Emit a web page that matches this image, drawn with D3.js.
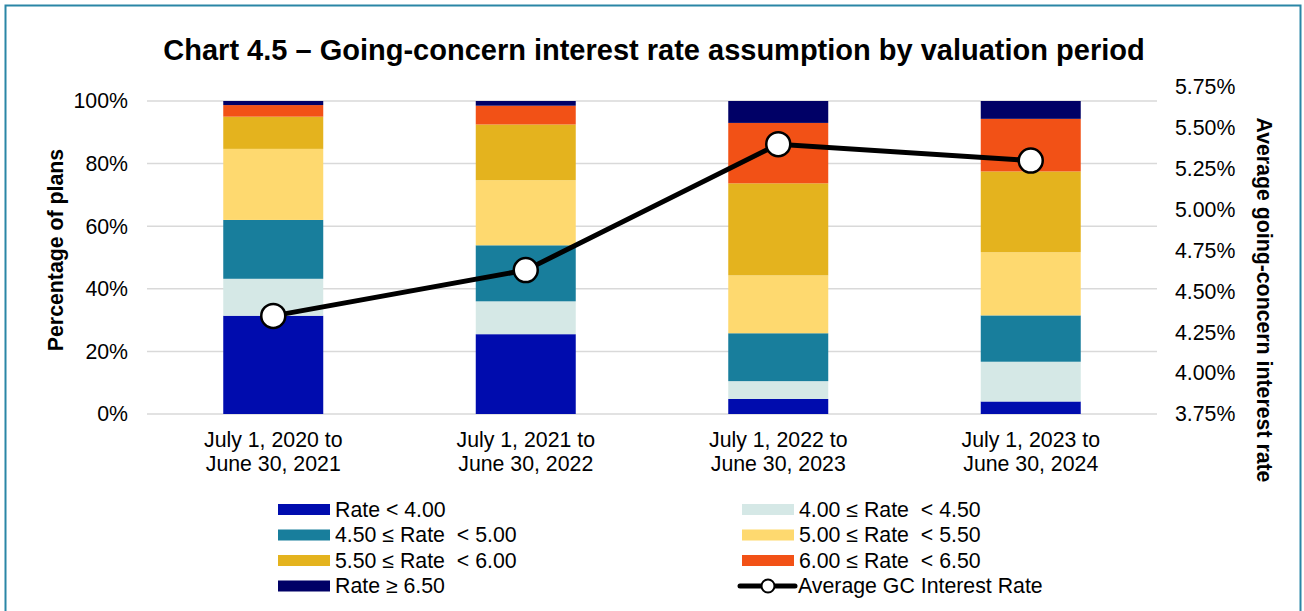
<!DOCTYPE html>
<html>
<head>
<meta charset="utf-8">
<script src="https://cdn.jsdelivr.net/npm/d3@7"></script>
<style>
  html, body { margin: 0; padding: 0; background: #fff; }
  text { font-family: "Liberation Sans", Arial, sans-serif; fill: #000; }
</style>
</head>
<body>
<svg id="chart" width="1304" height="611"></svg>
<script>
// ---- Data ----
const categories = [
  ["July 1, 2020 to", "June 30, 2021"],
  ["July 1, 2021 to", "June 30, 2022"],
  ["July 1, 2022 to", "June 30, 2023"],
  ["July 1, 2023 to", "June 30, 2024"]
];
const seriesNames = [
  "Rate < 4.00",
  "4.00 \u2264 Rate  < 4.50",
  "4.50 \u2264 Rate  < 5.00",
  "5.00 \u2264 Rate  < 5.50",
  "5.50 \u2264 Rate  < 6.00",
  "6.00 \u2264 Rate  < 6.50",
  "Rate \u2265 6.50"
];
// percentages of plans per category, bottom to top
const rateBelow400   = [31.4, 25.5, 4.8, 4.0];
const rate400to450   = [11.8, 10.5, 5.7, 12.7];
const rate450to500   = [18.8, 17.9, 15.3, 14.8];
const rate500to550   = [22.7, 20.8, 18.5, 20.2];
const rate550to600   = [10.3, 17.8, 29.4, 25.8];
const rate600to650   = [3.7, 6.0, 19.3, 16.8];
const rateAbove650   = [1.3, 1.5, 7.0, 5.7];
const avgGCRate      = [4.35, 4.63, 5.40, 5.30];
const leftTicks  = [0, 20, 40, 60, 80, 100];
const rightTicks = [3.75, 4.00, 4.25, 4.50, 4.75, 5.00, 5.25, 5.50, 5.75];
const lineName = "Average GC Interest Rate";

const colors = ["#000cae", "#d5e8e6", "#187e9c", "#fed96f", "#e4b31e", "#f25116", "#000066"];

// ---- Build table ----
const seriesArrays = [rateBelow400, rate400to450, rate450to500, rate500to550, rate550to600, rate600to650, rateAbove650];
const keys = seriesNames.map((d, i) => "s" + i);
const table = categories.map((c, j) => {
  const row = { cat: j };
  seriesArrays.forEach((arr, i) => row[keys[i]] = arr[j]);
  return row;
});
const stacked = d3.stack().keys(keys)(table);

const svg = d3.select("#chart");
const font = '"Liberation Sans", Arial, sans-serif';
const fs = "21.3px";

// frame
svg.append("rect").attr("x", 5.5).attr("y", 5.5).attr("width", 1295).attr("height", 620)
  .attr("fill", "none").attr("stroke", "#2a86a6").attr("stroke-width", 2);

// scales
const x = d3.scaleBand().domain(d3.range(categories.length)).range([147, 1157])
  .paddingInner(0.604).paddingOuter(0.302);
const y = d3.scaleLinear().domain([0, 100]).range([414, 101]);
const y2 = d3.scaleLinear().domain([3.75, 5.75]).range([414, 87]);

// title
svg.append("text").attr("x", 654).attr("y", 60).attr("text-anchor", "middle")
  .style("font-size", "29px").style("font-weight", "bold")
  .text("Chart 4.5 \u2013 Going-concern interest rate assumption by valuation period");

// gridlines
svg.append("g").selectAll("line").data(leftTicks).join("line")
  .attr("x1", 147).attr("x2", 1157)
  .attr("y1", d => y(d)).attr("y2", d => y(d))
  .attr("stroke", "#d9d9d9").attr("stroke-width", 1.5);

// left axis
const leftAxis = d3.axisLeft(y).tickValues(leftTicks).tickFormat(d => d + "%").tickSize(0).tickPadding(0);
const gL = svg.append("g").attr("transform", "translate(128,0)").call(leftAxis);
gL.select(".domain").remove();
gL.selectAll("text").style("font-size", fs).style("font-family", font).attr("fill", "#000");

// right axis
const rightAxis = d3.axisRight(y2).tickValues(rightTicks).tickFormat(d => d.toFixed(2) + "%").tickSize(0).tickPadding(0);
const gR = svg.append("g").attr("transform", "translate(1175,0)").call(rightAxis);
gR.select(".domain").remove();
gR.selectAll("text").style("font-size", fs).style("font-family", font).attr("fill", "#000");

// axis titles
svg.append("text").attr("transform", "translate(63,250) rotate(-90)").attr("text-anchor", "middle")
  .style("font-size", fs).style("font-weight", "bold").text("Percentage of plans");
svg.append("text").attr("transform", "translate(1257,300) rotate(90)").attr("text-anchor", "middle")
  .style("font-size", fs).style("font-weight", "bold").text("Average going-concern interest rate");

// bars
svg.append("g").selectAll("g").data(stacked).join("g")
  .attr("fill", (d, i) => colors[i])
  .selectAll("rect").data(d => d).join("rect")
  .attr("x", d => x(d.data.cat))
  .attr("width", x.bandwidth())
  .attr("y", d => y(d[1]))
  .attr("height", d => y(d[0]) - y(d[1]));

// x labels
const xl = svg.append("g").selectAll("text").data(categories).join("text")
  .attr("text-anchor", "middle")
  .style("font-size", fs);
xl.each(function(d, i) {
  const t = d3.select(this);
  const cx = x(i) + x.bandwidth() / 2;
  t.append("tspan").attr("x", cx).attr("y", 447).text(d[0]);
  t.append("tspan").attr("x", cx).attr("y", 471).text(d[1]);
});

// line
const line = d3.line().x((d, i) => x(i) + x.bandwidth() / 2).y(d => y2(d));
svg.append("path").datum(avgGCRate).attr("d", line)
  .attr("fill", "none").attr("stroke", "#000").attr("stroke-width", 5);
svg.append("g").selectAll("circle").data(avgGCRate).join("circle")
  .attr("cx", (d, i) => x(i) + x.bandwidth() / 2).attr("cy", d => y2(d))
  .attr("r", 12).attr("fill", "#fff").attr("stroke", "#000").attr("stroke-width", 2.5);

// legend
const legendItems = seriesNames.map((n, i) => ({ name: n, color: colors[i], type: "bar" }));
legendItems.push({ name: lineName, type: "line" });
const colX = [278, 742];
const rowY = [509.5, 535, 560.5, 586];
const lg = svg.append("g").selectAll("g").data(legendItems).join("g")
  .attr("transform", (d, i) => `translate(${colX[i % 2]},${rowY[Math.floor(i / 2)]})`);
lg.filter(d => d.type === "bar").append("rect")
  .attr("x", 0).attr("y", -5.5).attr("width", 52).attr("height", 11).attr("fill", d => d.color);
const lineLeg = lg.filter(d => d.type === "line");
lineLeg.append("line").attr("x1", -2).attr("x2", 53).attr("y1", 0).attr("y2", 0)
  .attr("stroke", "#000").attr("stroke-width", 5).attr("stroke-linecap", "round");
lineLeg.append("circle").attr("cx", 26).attr("cy", 0).attr("r", 6.5)
  .attr("fill", "#fff").attr("stroke", "#000").attr("stroke-width", 2);
lg.append("text").attr("x", d => d.type === "line" ? 56 : 57).attr("y", 0).attr("dy", "0.35em")
  .style("font-size", fs).style("white-space", "pre").attr("xml:space", "preserve")
  .text(d => d.name);
</script>
</body>
</html>
